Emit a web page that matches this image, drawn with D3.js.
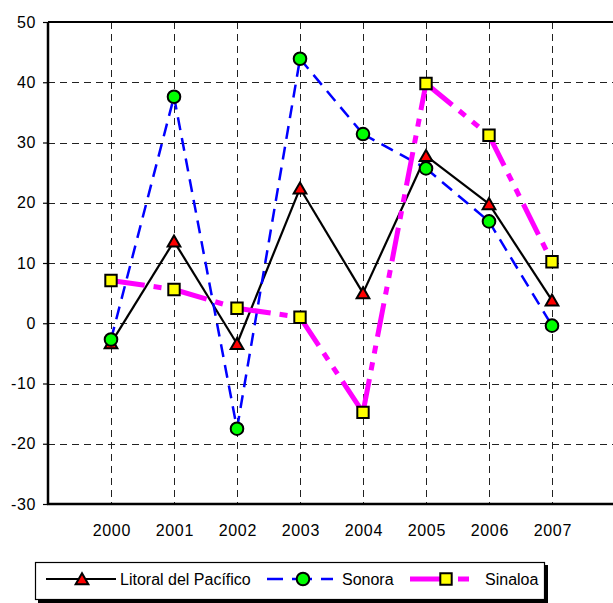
<!DOCTYPE html>
<html>
<head>
<meta charset="utf-8">
<script src="https://cdn.jsdelivr.net/npm/d3@7"></script>
<style>
  html, body { margin: 0; padding: 0; background: #fff; }
  svg { display: block; font-family: "Liberation Sans", Arial, sans-serif; }
</style>
</head>
<body>
<svg id="chart" width="613" height="603"></svg>
<script>
const years = ["2000", "2001", "2002", "2003", "2004", "2005", "2006", "2007"];
const litoral = [-3.3, 13.6, -3.4, 22.4, 5.0, 27.8, 19.8, 3.8];
const sonora = [-2.7, 37.6, -17.5, 43.9, 31.4, 25.7, 16.9, -0.4];
const sinaloa = [7.1, 5.6, 2.5, 1.0, -14.8, 39.8, 31.2, 10.2];
const yTicks = [-30, -20, -10, 0, 10, 20, 30, 40, 50];
const seriesNames = ["Litoral del Pacífico", "Sonora", "Sinaloa"];

(function () {
const svg = d3.select("#chart");
const pLeft = 48, pRight = 615, pTop = 22, pBottom = 504;
const FONT = "Liberation Sans, Arial, sans-serif";

const x = d3.scalePoint().domain(years).range([pLeft, pRight]).padding(1);
const y = d3.scaleLinear().domain([-30, 50]).range([pBottom, pTop]);

// gridlines
const grid = svg.append("g");
grid.selectAll("line.h").data(yTicks.filter(v => v > -30 && v < 50)).join("line")
  .attr("x1", pLeft).attr("x2", 613)
  .attr("y1", d => Math.round(y(d)) + 0.5).attr("y2", d => Math.round(y(d)) + 0.5)
  .attr("stroke", "#222").attr("stroke-width", 1).attr("stroke-dasharray", "7,5");
grid.selectAll("line.v").data(years).join("line")
  .attr("x1", d => Math.round(x(d)) + 0.5).attr("x2", d => Math.round(x(d)) + 0.5)
  .attr("y1", pTop).attr("y2", pBottom)
  .attr("stroke", "#222").attr("stroke-width", 1).attr("stroke-dasharray", "7,5");

// frame
svg.append("line").attr("x1", pLeft).attr("x2", 613).attr("y1", pTop).attr("y2", pTop)
  .attr("stroke", "#000").attr("stroke-width", 2);

// y axis
const yAxis = d3.axisLeft(y).tickValues(yTicks).tickSize(5).tickPadding(7).tickFormat(d => String(d));
const gy = svg.append("g").attr("transform", `translate(${pLeft},0)`).call(yAxis);
gy.select(".domain").attr("stroke-width", 2.5).attr("d", `M0,${pTop}V${pBottom + 1}`);
gy.selectAll(".tick line").attr("stroke-width", 1.2);
gy.selectAll("text").attr("font-size", 16).attr("font-family", FONT).attr("fill", "#000")
  .attr("letter-spacing", 0.6);

// x axis
const xAxis = d3.axisBottom(x).tickSize(0).tickPadding(21);
const gx = svg.append("g").attr("transform", `translate(0,${pBottom})`).call(xAxis);
gx.select(".domain").attr("stroke-width", 2.5).attr("d", `M${pLeft - 1},0H613`);
gx.selectAll("text").attr("font-size", 16).attr("font-family", FONT).attr("fill", "#000")
  .attr("letter-spacing", 0.7).attr("dx", 0.35);

const tri = d3.symbol().type(d3.symbolTriangle).size(70);
const circ = d3.symbol().type(d3.symbolCircle).size(125);
const sq = d3.symbol().type(d3.symbolSquare).size(130);

const series = [
  { vals: litoral, color: "#000", width: 2.2, dash: null, sym: tri, fill: "#ff0000", dy: 1.5 },
  { vals: sonora, color: "#0000ff", width: 2.5, dash: "13,8", sym: circ, fill: "#00ff00", dy: 0 },
  { vals: sinaloa, color: "#ff00ff", width: 5, dash: "34,9,8,9,8,9", sym: sq, fill: "#ffff00", dy: 0 }
];

series.forEach(s => {
  const g = svg.append("g");
  const segs = d3.pairs(s.vals.map((v, i) => [x(years[i]), y(v)]));
  g.selectAll("path.seg").data(segs).join("path").attr("class", "seg")
    .attr("d", d => d3.line()(d))
    .attr("fill", "none").attr("stroke", s.color).attr("stroke-width", s.width)
    .attr("stroke-dasharray", s.dash);
  g.selectAll("path.m").data(s.vals).join("path").attr("class", "m")
    .attr("d", s.sym)
    .attr("transform", (d, i) => `translate(${x(years[i])},${y(d) + s.dy})`)
    .attr("fill", s.fill).attr("stroke", "#000").attr("stroke-width", 2);
});

// legend
const lg = svg.append("g");
lg.append("rect").attr("x", 38).attr("y", 565).attr("width", 510).attr("height", 39).attr("fill", "#000");
lg.append("rect").attr("x", 35.5).attr("y", 562.5).attr("width", 509).attr("height", 37)
  .attr("fill", "#fff").attr("stroke", "#000").attr("stroke-width", 1.2);

const legendItems = [
  { name: seriesNames[0], s: series[0], x1: 46, x2: 116, mx: 82, tx: 120, dash: null },
  { name: seriesNames[1], s: series[1], x1: 267, x2: 333, mx: 303, tx: 342, dash: "16,9,20,9,16" },
  { name: seriesNames[2], s: series[2], x1: 410, x2: 469, mx: 446, tx: 485, dash: "34,14,12,40" }
];
const ly = 579;
legendItems.forEach(it => {
  lg.append("line").attr("x1", it.x1).attr("x2", it.x2).attr("y1", ly).attr("y2", ly)
    .attr("stroke", it.s.color).attr("stroke-width", it.s.width).attr("stroke-dasharray", it.dash);
  lg.append("path").attr("d", it.s.sym).attr("transform", `translate(${it.mx},${ly + it.s.dy})`)
    .attr("fill", it.s.fill).attr("stroke", "#000").attr("stroke-width", 2);
  lg.append("text").attr("x", it.tx).attr("y", ly + 6).attr("font-size", 16)
    .attr("font-family", FONT).attr("fill", "#000").text(it.name);
});
})();
</script>
</body>
</html>
